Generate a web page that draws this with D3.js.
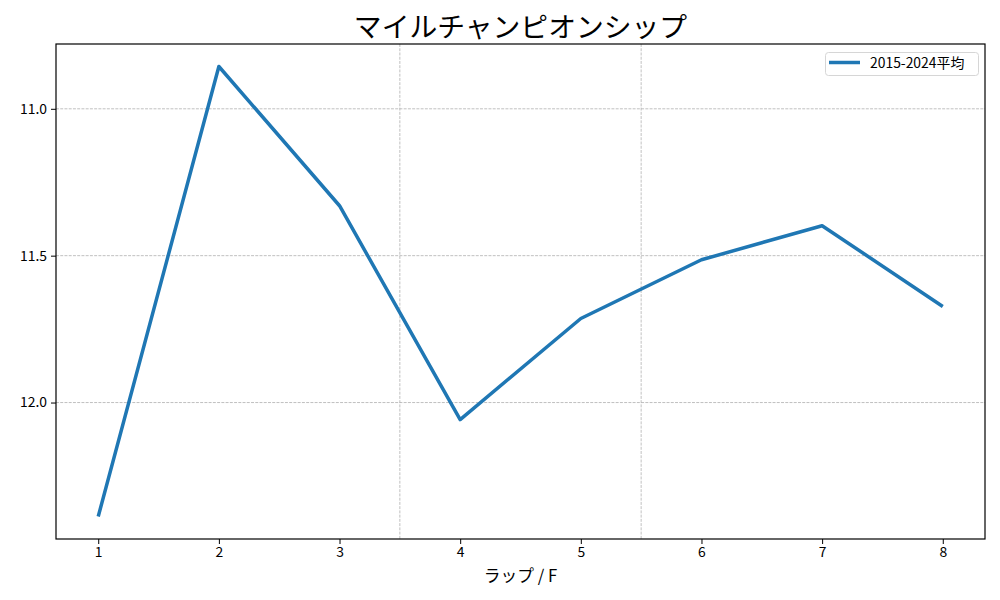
<!DOCTYPE html>
<html><head><meta charset="utf-8">
<script src="https://cdn.jsdelivr.net/npm/d3@7"></script>
<style>body{margin:0;background:#fff;} svg{display:block;}</style>
</head><body>
<svg id="c" width="1000" height="600"></svg>
<script>
const laps = [1, 2, 3, 4, 5, 6, 7, 8];
const avg = [12.388, 10.856, 11.33, 12.058, 11.714, 11.514, 11.398, 11.673];
const yTicks = [11.0, 11.5, 12.0];
const vGrid = [3.5, 5.5];
const title = "マイルチャンピオンシップ";
const xLabel = "ラップ / F";
const seriesName = "2015-2024平均";

const font = "'Noto Sans CJK JP', 'DejaVu Sans', sans-serif";
const svg = d3.select("#c");
const L = 56, R = 985, T = 44, B = 539;
const x = d3.scaleLinear().domain([0.65, 8.35]).range([L, R]);
const ymin = d3.min(avg), ymax = d3.max(avg), pad = (ymax - ymin) * 0.05;
const y = d3.scaleLinear().domain([ymin - pad, ymax + pad]).range([T, B]);

const g = svg.append("g");
// grid
g.selectAll(".hg").data(yTicks).join("line")
  .attr("x1", L).attr("x2", R).attr("y1", d => y(d)).attr("y2", d => y(d))
  .attr("stroke", "#b0b0b0").attr("stroke-width", 0.8).attr("stroke-dasharray", "2.96,1.28");
g.selectAll(".vg").data(vGrid).join("line")
  .attr("y1", T).attr("y2", B).attr("x1", d => x(d)).attr("x2", d => x(d))
  .attr("stroke", "#b0b0b0").attr("stroke-width", 0.8).attr("stroke-dasharray", "2.96,1.28");

// line
const line = d3.line().x((d, i) => x(laps[i])).y(d => y(d));
g.append("path").datum(avg).attr("d", line).attr("fill", "none")
  .attr("stroke", "#1f77b4").attr("stroke-width", 3.5).attr("stroke-linejoin", "round").attr("stroke-linecap", "butt");

// frame
svg.append("rect").attr("x", L).attr("y", T).attr("width", R - L).attr("height", B - T)
  .attr("fill", "none").attr("stroke", "#000").attr("stroke-width", 1.2);

// axes
const xa = svg.append("g").attr("transform", `translate(0,${B})`)
  .call(d3.axisBottom(x).tickValues(laps).tickFormat(d3.format("d")).tickSize(5).tickPadding(3));
const ya = svg.append("g").attr("transform", `translate(${L},0)`)
  .call(d3.axisLeft(y).tickValues(yTicks).tickFormat(d3.format(".1f")).tickSize(5).tickPadding(4));
[xa, ya].forEach(a => {
  a.select(".domain").remove();
  a.selectAll("line").attr("stroke", "#000").attr("stroke-width", 1);
  a.selectAll("text").attr("font-family", font).attr("font-size", 13.9).attr("fill", "#000");
});

svg.append("text").attr("x", (L + R) / 2).attr("y", 37).attr("text-anchor", "middle")
  .attr("font-family", font).attr("font-size", 27.8).text(title);
svg.append("text").attr("x", (L + R) / 2).attr("y", 582).attr("text-anchor", "middle")
  .attr("font-family", font).attr("font-size", 16.7).text(xLabel);

// legend
const lg = svg.append("g");
lg.append("rect").attr("x", 825.5).attr("y", 52.5).attr("width", 153).attr("height", 23).attr("rx", 3)
  .attr("fill", "#fff").attr("fill-opacity", 0.8).attr("stroke", "#d6d6d6").attr("stroke-width", 1);
lg.append("line").attr("x1", 829).attr("x2", 860).attr("y1", 62.5).attr("y2", 62.5)
  .attr("stroke", "#1f77b4").attr("stroke-width", 3.5);
lg.append("text").attr("x", 870).attr("y", 67.5).attr("font-family", font).attr("font-size", 13.9).text(seriesName);
</script>
</body></html>
